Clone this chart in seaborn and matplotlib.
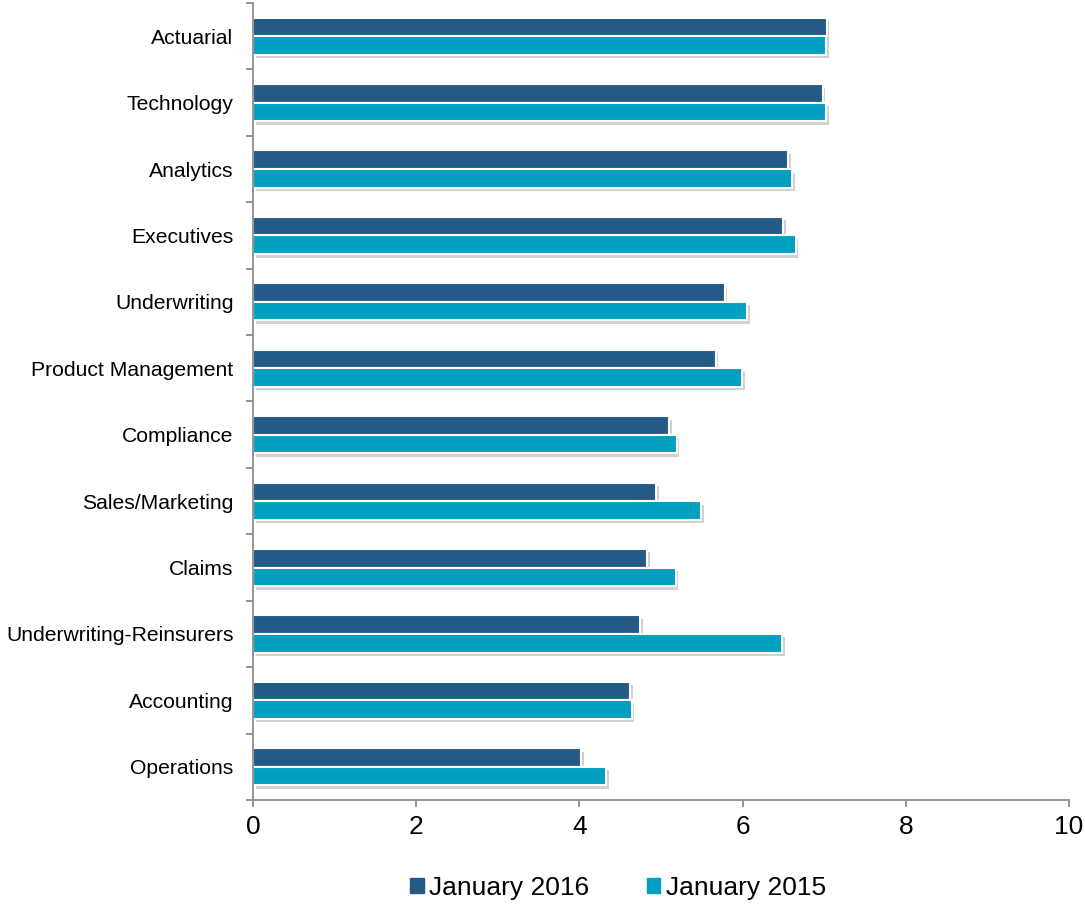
import matplotlib
matplotlib.use("Agg")
import matplotlib.pyplot as plt
import matplotlib.patheffects as pe
from matplotlib.patches import Patch
from matplotlib.ticker import FixedLocator
import numpy as np
import pandas as pd
import seaborn as sns

categories = ["Actuarial", "Technology", "Analytics", "Executives", "Underwriting",
              "Product Management", "Compliance", "Sales/Marketing", "Claims",
              "Underwriting-Reinsurers", "Accounting", "Operations"]
jan_2016 = [7.03, 6.98, 6.56, 6.50, 5.78, 5.67, 5.10, 4.94, 4.83, 4.74, 4.62, 4.02]
jan_2015 = [7.02, 7.02, 6.61, 6.65, 6.06, 5.99, 5.19, 5.49, 5.18, 6.48, 4.64, 4.33]
series_names = ["January 2016", "January 2015"]
colors = ["#245a86", "#019fc0"]
x_ticks = [0, 2, 4, 6, 8, 10]

df = pd.DataFrame({
    "category": categories * 2,
    "value": jan_2016 + jan_2015,
    "series": [series_names[0]] * len(categories) + [series_names[1]] * len(categories),
})

sns.set_style("white")
plt.rcParams["font.family"] = ["Liberation Sans", "DejaVu Sans"]
plt.rcParams["text.color"] = "black"
plt.rcParams["xtick.labelcolor"] = "black"
plt.rcParams["ytick.labelcolor"] = "black"

fig = plt.figure(figsize=(10.85, 9.05), dpi=100)
ax = fig.add_axes([253 / 1085, 1 - 800 / 905, (1069 - 253) / 1085, (800 - 3) / 905])

sns.barplot(data=df, y="category", x="value", hue="series", order=categories,
            hue_order=series_names, palette=colors, saturation=1, orient="h", width=0.56,
            edgecolor="white", linewidth=1.5, ax=ax, legend=False)

for p in ax.patches:
    p.set_path_effects([pe.SimplePatchShadow(offset=(2, -2.5), shadow_rgbFace="#000000", alpha=0.18),
                        pe.Normal()])

ax.set_xlim(0, 10)
ax.set_ylim(len(categories) - 0.5, -0.5)
ax.set_xticks(x_ticks)
ax.set_xticklabels([str(t) for t in x_ticks], fontsize=19, color="black")
for lab in ax.get_yticklabels():
    lab.set_color("black")
ax.yaxis.set_minor_locator(FixedLocator(np.arange(-0.5, len(categories), 1.0)))
ax.tick_params(axis="y", which="major", length=0, pad=14, labelsize=15.2, labelcolor="black")
ax.tick_params(axis="y", which="minor", length=5, width=1.3, color="#8c8c8c", left=True)
ax.tick_params(axis="x", which="major", length=5, width=1.3, color="#8c8c8c", bottom=True, pad=6,
               labelcolor="black")
ax.set_xlabel("")
ax.set_ylabel("")
for s in ["top", "right"]:
    ax.spines[s].set_visible(False)
for s in ["left", "bottom"]:
    ax.spines[s].set_color("#8c8c8c")
    ax.spines[s].set_linewidth(1.3)

handles = [Patch(facecolor=c, edgecolor=c) for c in colors]
fig.legend(handles, series_names, loc="center", bbox_to_anchor=(618 / 1085, 1 - 888 / 905),
           ncol=2, frameon=False, fontsize=19, handlelength=0.5, handleheight=0.5,
           handletextpad=0.2, columnspacing=2.2)

fig.savefig("out.png", dpi=100)
